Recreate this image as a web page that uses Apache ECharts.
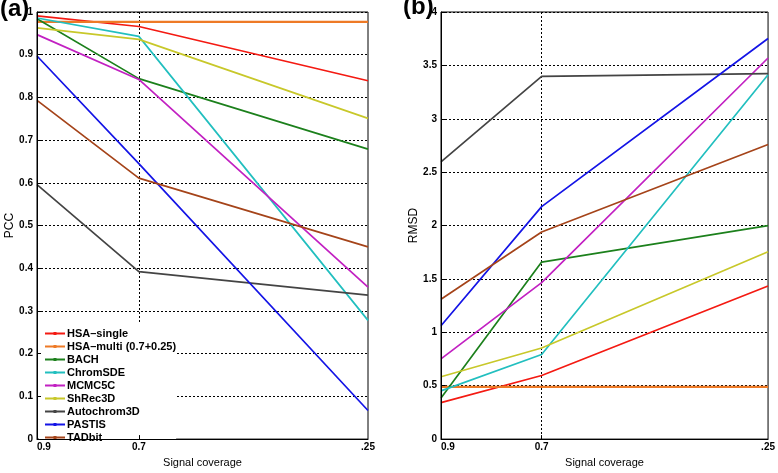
<!DOCTYPE html>
<html><head><meta charset="utf-8">
<script src="https://cdn.jsdelivr.net/npm/echarts@6/dist/echarts.min.js"></script>
<style>html,body{margin:0;padding:0;background:#fff}#c{width:778px;height:473px}</style>
</head><body><div id="c"></div>
<script>
const coverage = [0.9, 0.7, 0.25];
const xTickLabels = [0.9, 0.7, 0.25];
const methods = ['HSA\u2013single','HSA\u2013multi (0.7+0.25)','BACH','ChromSDE','MCMC5C','ShRec3D','Autochrom3D','PASTIS','TADbit'];
const colors = ['#f41a12','#ee7a26','#1c801c','#22bfbf','#c221c2','#c8c82a','#444444','#1414e6','#a5441a'];
// PCC values (panel a)
const pccHSAsingle = [0.991, 0.966, 0.839];
const pccHSAmulti = [0.977, 0.977, 0.977];
const pccBACH = [0.984, 0.844, 0.679];
const pccChromSDE = [0.986, 0.943, 0.278];
const pccMCMC5C = [0.947, 0.842, 0.356];
const pccShRec3D = [0.963, 0.936, 0.751];
const pccAutochrom3D = [0.596, 0.392, 0.337];
const pccPASTIS = [0.897, 0.645, 0.067];
const pccTADbit = [0.793, 0.611, 0.450];
// RMSD values (panel b)
const rmsdHSAsingle = [0.342, 0.596, 1.434];
const rmsdHSAmulti = [0.49, 0.49, 0.49];
const rmsdBACH = [0.385, 1.658, 2.0];
const rmsdChromSDE = [0.452, 0.792, 3.413];
const rmsdMCMC5C = [0.752, 1.465, 3.569];
const rmsdShRec3D = [0.584, 0.853, 1.755];
const rmsdAutochrom3D = [2.596, 3.397, 3.422];
const rmsdPASTIS = [1.061, 2.177, 3.752];
const rmsdTADbit = [1.309, 1.939, 2.759];

const pcc = [pccHSAsingle, pccHSAmulti, pccBACH, pccChromSDE, pccMCMC5C, pccShRec3D, pccAutochrom3D, pccPASTIS, pccTADbit];
const rmsd = [rmsdHSAsingle, rmsdHSAmulti, rmsdBACH, rmsdChromSDE, rmsdMCMC5C, rmsdShRec3D, rmsdAutochrom3D, rmsdPASTIS, rmsdTADbit];

const font = 'Liberation Sans, Arial, sans-serif';
// main x axes: line, ticks, labels (drawn above legend)
function xAx(idx){
  return {
    gridIndex: idx, type: 'value', inverse: true, min: 0.25, max: 0.9, z: 10,
    name: 'Signal coverage', nameLocation: 'middle', nameGap: 16,
    nameTextStyle: {color:'#000', fontSize: 11, fontFamily: font},
    axisLine: {show: true, lineStyle: {color:'#000', width: 1}},
    axisTick: {show: true, inside: true, length: 4, customValues: [0.7], lineStyle:{color:'#000'}},
    axisLabel: {customValues: xTickLabels, color:'#000', fontSize: 10, fontWeight:'bold', fontFamily: font, margin: 3,
      alignMinLabel: 'left', alignMaxLabel: 'center',
      formatter: v => (Math.abs(v-0.25)<1e-6 ? '.25' : v.toFixed(1))},
    splitLine: {show: false}
  };
}
// grid-only x axes (drawn under legend)
function xGrid(idx){
  return {
    gridIndex: idx, type: 'value', inverse: true, min: 0.25, max: 0.9, z: 0,
    axisLine: {show: false},
    axisTick: {show: true, length: 0, customValues: [0.7], lineStyle:{opacity: 0}},
    axisLabel: {show: false},
    splitLine: {show: true, lineStyle: {color:'#000', type:[2,2], width: 1}}
  };
}
function yAx(idx, max, interval, name){
  return {
    gridIndex: idx, type: 'value', min: 0, max: max, interval: interval, z: 10,
    name: name, nameLocation: 'middle', nameGap: 21,
    nameTextStyle: {color:'#000', fontSize: 12, fontFamily: font},
    axisLine: {show: true, lineStyle: {color:'#000', width: 1}},
    axisTick: {show: true, inside: true, length: 4, lineStyle:{color:'#000'}},
    axisLabel: {color:'#000', fontSize: 10, fontWeight:'bold', fontFamily: font, margin: 4},
    splitLine: {show: false}
  };
}
function yGrid(idx, max, interval){
  return {
    gridIndex: idx, type: 'value', min: 0, max: max, interval: interval, z: 0,
    axisLine: {show: false}, axisTick: {show: false}, axisLabel: {show: false},
    splitLine: {show: true, lineStyle: {color:'#000', type:[2,2], width: 1}}
  };
}
const series = [];
methods.forEach((m, i) => {
  [pcc, rmsd].forEach((set, g) => {
    series.push({
      name: m, type: 'line', xAxisIndex: g, yAxisIndex: g,
      data: coverage.map((c, k) => [c, set[i][k]]),
      symbol: 'none',
      lineStyle: {color: colors[i], width: (i === 1 ? 2.2 : 1.7)},
      itemStyle: {color: colors[i]},
      emphasis: {disabled: true}, animation: false, z: 3
    });
  });
});
const chart = echarts.init(document.getElementById('c'), null, {renderer:'canvas'});
chart.setOption({
  animation: false,
  color: colors,
  grid: [
    {left: 37, right: 410, top: 12, bottom: 25, show: true, borderColor:'#000', borderWidth: 1, containLabel: false},
    {left: 441, right: 7, top: 12, bottom: 25, show: true, borderColor:'#000', borderWidth: 1, containLabel: false}
  ],
  xAxis: [xAx(0), xAx(1), xGrid(0), xGrid(1)],
  yAxis: [yAx(0, 1, 0.1, 'PCC'), yAx(1, 4, 0.5, 'RMSD'), yGrid(0, 1, 0.1), yGrid(1, 4, 0.5)],
  legend: {
    data: methods, orient: 'vertical', left: 39, bottom: 27, z: 4,
    padding: [4, 0, 3, 6], backgroundColor: '#fff',
    icon: 'path://M0,4 H20 V6 H0 Z M8.5,3.4 H11.5 V6.6 H8.5 Z',
    itemWidth: 20, itemHeight: 10, itemGap: 2,
    textStyle: {color:'#000', fontSize: 11, lineHeight: 11, fontWeight:'bold', fontFamily: font, padding:[0,0,0,-3]},
    selectedMode: false
  },
  graphic: [
    {type:'text', left: 0, top: -3, style:{text:'(a)', fontSize: 24, fontWeight:'bold', fontFamily: font, fill:'#000'}},
    {type:'text', left: 403, top: -5, style:{text:'(b)', fontSize: 24, fontWeight:'bold', fontFamily: font, fill:'#000'}}
  ],
  series: series
});
</script></body></html>
